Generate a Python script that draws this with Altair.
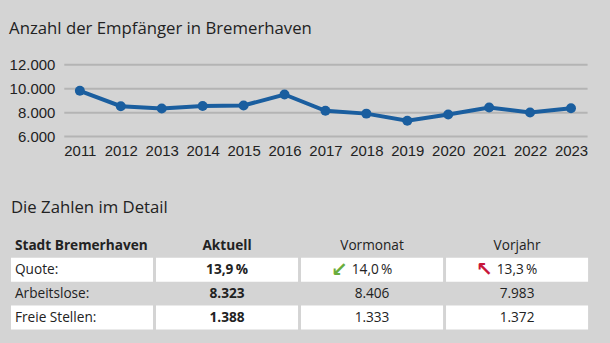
import altair as alt
import pandas as pd

# ---------------- data ----------------
years = [2011, 2012, 2013, 2014, 2015, 2016, 2017, 2018, 2019, 2020, 2021, 2022, 2023]
recipients = [9790, 8500, 8310, 8510, 8560, 9480, 8115, 7880, 7280, 7800, 8400, 7983, 8323]
y_ticks = [6000, 8000, 10000, 12000]

headers = ["Stadt Bremerhaven", "Aktuell", "Vormonat", "Vorjahr"]
row_labels = ["Quote:", "Arbeitslose:", "Freie Stellen:"]
aktuell = ["13,9\u2009%", "8.323", "1.388"]
vormonat = ["14,0\u2009%", "8.406", "1.333"]
vorjahr = ["13,3\u2009%", "7.983", "1.372"]
white_rows = ["Quote:", "Freie Stellen:"]
arrow_cols = ["Vormonat", "Vorjahr"]
arrow_glyphs = ["\u2199", "\u2196"]
arrow_colors = ["#6aad3d", "#c8163a"]

BG = "#d4d4d4"
BLUE = "#1a5e9f"
TXT = "#222222"
AXISFONT = "Liberation Sans"
SANS = "Open Sans"

# ---------------- line chart ----------------
line_df = pd.DataFrame({"year": years, "value": recipients})

x_enc = alt.X(
    "year:O",
    scale=alt.Scale(type="point", padding=0.393),
    axis=alt.Axis(
        title=None, domain=False, ticks=False, tickSize=0, grid=False,
        labelAngle=0, labelFont=AXISFONT, labelFontSize=15, labelColor=TXT,
        labelPadding=7,
    ),
)
y_enc = alt.Y(
    "value:Q",
    scale=alt.Scale(domain=[6000, 12000], nice=False, zero=False),
    axis=alt.Axis(
        title=None, values=y_ticks, domain=False, ticks=False, tickSize=0,
        grid=True, gridColor="#b4b4b4", gridWidth=2,
        labelExpr="replace(format(datum.value, ','), ',', '.')",
        labelFont=AXISFONT, labelFontSize=15, labelColor=TXT, labelPadding=9,
        minExtent=53, maxExtent=53,
    ),
)

line = alt.Chart(line_df).mark_line(color=BLUE, strokeWidth=4).encode(x=x_enc, y=y_enc)
dots = alt.Chart(line_df).mark_point(filled=True, size=100, opacity=1, color=BLUE).encode(x=x_enc, y=y_enc)

top = alt.layer(line, dots).properties(
    width=525,
    height=72,
    title=alt.Title(
        "Anzahl der Empfänger in Bremerhaven", anchor="start", frame="bounds",
        font=SANS, fontSize=16.8, fontWeight="normal", color=TXT,
        baseline="alphabetic", offset=7,
    ),
)

# ---------------- table ----------------
cells = []
for j, h in enumerate(headers):
    cells.append(dict(col=h, row="hdr", text=h, bold=j < 2, left=j == 0))
for i, lab in enumerate(row_labels):
    cells.append(dict(col=headers[0], row=lab, text=lab, bold=False, left=True))
    cells.append(dict(col=headers[1], row=lab, text=aktuell[i], bold=True, left=False))
    cells.append(dict(col=headers[2], row=lab, text=vormonat[i], bold=False, left=False))
    cells.append(dict(col=headers[3], row=lab, text=vorjahr[i], bold=False, left=False))
cells_df = pd.DataFrame(cells)
boxes_df = pd.DataFrame([dict(col=h, row=r) for r in white_rows for h in headers])
arrows_df = pd.DataFrame(dict(col=arrow_cols, row=["Quote:"] * 2, glyph=arrow_glyphs, color=arrow_colors))

# the table starts under the y-axis labels of the line chart
xs = alt.Scale(type="band", domain=headers, range=[-53, 526], paddingInner=0.0206, paddingOuter=0)
ys = alt.Scale(type="band", domain=["hdr"] + row_labels, paddingInner=0, paddingOuter=0)

boxes = alt.Chart(boxes_df).mark_rect(fill="white", stroke=None).encode(
    x=alt.X("col:N", scale=xs, axis=None),
    y=alt.Y("row:N", scale=ys, axis=None),
)


def text_layer(left, bold):
    return (
        alt.Chart(cells_df)
        .transform_filter(
            f"datum.left == {str(left).lower()} && datum.bold == {str(bold).lower()}"
        )
        .mark_text(
            align="left" if left else "center",
            dx=4 if left else 0,
            baseline="middle",
            font=SANS,
            fontSize=13.7,
            fontWeight="bold" if bold else "normal",
            color=TXT,
        )
        .encode(
            x=alt.X("col:N", scale=xs, axis=None, bandPosition=0 if left else 0.5),
            y=alt.Y("row:N", scale=ys, axis=None),
            text="text:N",
        )
    )


arrows = alt.Chart(arrows_df).mark_text(
    font="DejaVu Sans", fontSize=20, fontWeight="bold", dx=-33, baseline="middle", align="center"
).encode(
    x=alt.X("col:N", scale=xs, axis=None),
    y=alt.Y("row:N", scale=ys, axis=None),
    text="glyph:N",
    color=alt.Color("color:N", scale=None),
)

table = alt.layer(
    boxes,
    text_layer(True, False),
    text_layer(True, True),
    text_layer(False, False),
    text_layer(False, True),
    arrows,
).properties(
    width=526,
    height=96,
    title=alt.Title(
        "Die Zahlen im Detail", anchor="start", frame="bounds",
        font=SANS, fontSize=16.8, fontWeight="normal", color=TXT,
        baseline="alphabetic", offset=3.9,
    ),
)

chart = (
    alt.concat(top, table, columns=1, align="none", spacing=42)
    .properties(
        background=BG,
        padding={"left": 9, "right": 22, "top": 20, "bottom": 14},
    )
    .configure_view(stroke=None)
)

chart.save("out.html", embed_options={"renderer": "svg", "actions": False})
